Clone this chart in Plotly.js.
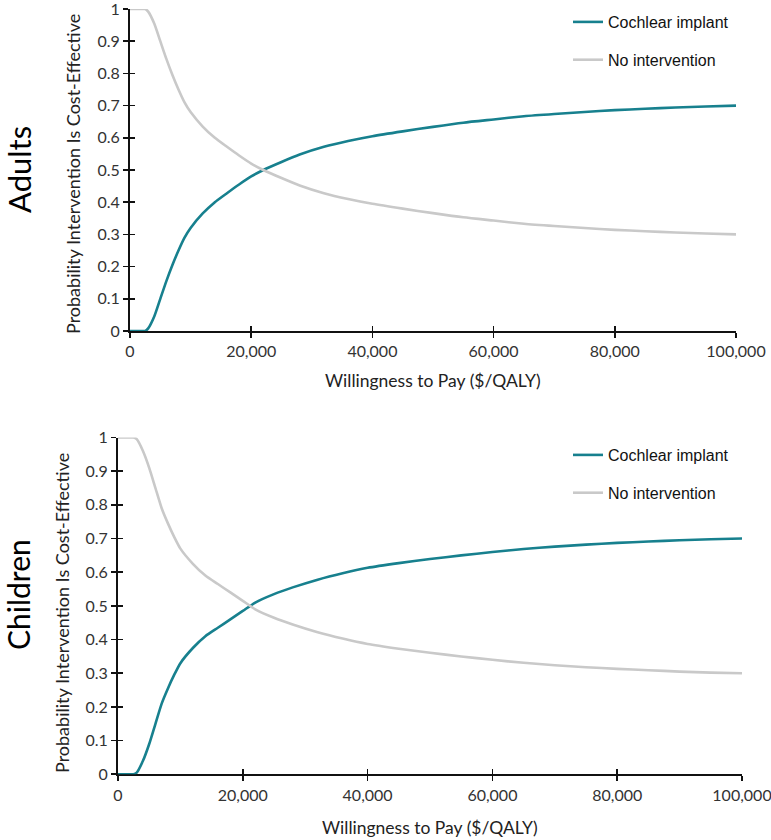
<!DOCTYPE html>
<html>
<head>
<meta charset="utf-8">
<script src="https://cdn.plot.ly/plotly-3.0.1.min.js"></script>
<style>html,body{margin:0;padding:0;background:#fff;} #chart{width:771px;height:840px;}</style>
</head>
<body>
<div id="chart"></div>
<script>
// Willingness to pay ($/QALY)
const wtp = [0, 2000, 2500, 3000, 4000, 5000, 6000, 7000, 8000, 9000, 10000, 12000, 14000, 16000, 18000, 20000, 22000, 25000, 28000, 32000, 36000, 40000, 45000, 50000, 55000, 60000, 65000, 70000, 75000, 80000, 85000, 90000, 95000, 100000];

// Adults
const adultsImplant = [0, 0, 0, 0.008, 0.045, 0.10, 0.155, 0.205, 0.25, 0.29, 0.32, 0.365, 0.40, 0.428, 0.455, 0.48, 0.50, 0.525, 0.548, 0.572, 0.59, 0.605, 0.62, 0.634, 0.647, 0.657, 0.667, 0.674, 0.680, 0.686, 0.690, 0.694, 0.697, 0.70];
const adultsNone    = [1, 1, 1, 0.992, 0.955, 0.90, 0.845, 0.795, 0.75, 0.71, 0.68, 0.635, 0.60, 0.572, 0.545, 0.52, 0.50, 0.475, 0.452, 0.428, 0.41, 0.395, 0.38, 0.366, 0.353, 0.343, 0.333, 0.326, 0.320, 0.314, 0.310, 0.306, 0.303, 0.30];

// Children
const childrenImplant = [0, 0, 0, 0.005, 0.04, 0.09, 0.15, 0.21, 0.255, 0.295, 0.33, 0.375, 0.41, 0.435, 0.46, 0.485, 0.51, 0.535, 0.555, 0.578, 0.597, 0.613, 0.627, 0.639, 0.650, 0.660, 0.669, 0.676, 0.682, 0.687, 0.691, 0.695, 0.698, 0.70];
const childrenNone    = [1, 1, 1, 0.995, 0.96, 0.91, 0.85, 0.79, 0.745, 0.705, 0.67, 0.625, 0.59, 0.565, 0.54, 0.515, 0.49, 0.465, 0.445, 0.422, 0.403, 0.387, 0.373, 0.361, 0.350, 0.340, 0.331, 0.324, 0.318, 0.313, 0.309, 0.305, 0.302, 0.30];

const seriesNames = ['Cochlear implant', 'No intervention'];
const xTicks = [0, 20000, 40000, 60000, 80000, 100000];
const xTickText = ['0', '20,000', '40,000', '60,000', '80,000', '100,000'];
const panelLabels = ['Adults', 'Children'];
const xTitle = 'Willingness to Pay ($/QALY)';
const yTitle = 'Probability Intervention Is Cost-Effective';

const teal = '#17808e';
const grey = '#c9c9c9';
const axisCol = '#111';
const textCol = '#333';
const tickFont = {family: 'Lato, Calibri, sans-serif', size: 16, color: textCol};

function line(x, y, name, color, xa, ya, leg, grp) {
  return {x: x, y: y, name: name, type: 'scatter', mode: 'lines',
    line: {color: color, width: 2.6, shape: 'spline', smoothing: 0.6},
    xaxis: xa, yaxis: ya, legend: leg, legendgroup: grp, hoverinfo: 'skip'};
}
// empty helper traces so the overlay tick axes (inner half of crossing ticks) get drawn
function helper(xa, ya) {
  return {x: [null], y: [null], type: 'scatter', mode: 'lines', xaxis: xa, yaxis: ya,
    showlegend: false, hoverinfo: 'skip'};
}

const data = [
  line(wtp, adultsImplant, seriesNames[0], teal, 'x', 'y', 'legend', 'a1'),
  line(wtp, adultsNone, seriesNames[1], grey, 'x', 'y', 'legend', 'a2'),
  line(wtp, childrenImplant, seriesNames[0], teal, 'x2', 'y2', 'legend2', 'c1'),
  line(wtp, childrenNone, seriesNames[1], grey, 'x2', 'y2', 'legend2', 'c2'),
  helper('x3', 'y3'),
  helper('x4', 'y4')
];

function xAx(domain, anchor) {
  return {domain: domain, anchor: anchor, range: [0, 100000], tickvals: xTicks, ticktext: xTickText,
    showgrid: false, zeroline: false, showline: true, linecolor: axisCol, linewidth: 2,
    ticks: 'outside', ticklen: 5, tickwidth: 1.6, tickcolor: axisCol, tickfont: tickFont,
    ticklabeloverflow: 'allow', layer: 'below traces', fixedrange: true};
}
function yAx(domain, anchor) {
  return {domain: domain, anchor: anchor, range: [0, 1], dtick: 0.1, tick0: 0,
    showgrid: false, zeroline: false, showline: true, linecolor: axisCol, linewidth: 2,
    ticks: 'outside', ticklen: 5, tickwidth: 1.6, tickcolor: axisCol, tickfont: tickFont,
    ticklabeloverflow: 'allow', layer: 'below traces', fixedrange: true};
}
function xOver(over, anchor) {
  return {overlaying: over, anchor: anchor, range: [0, 100000], tickvals: xTicks, showticklabels: false,
    showgrid: false, zeroline: false, showline: false, ticks: 'inside', ticklen: 5, tickwidth: 1.6,
    tickcolor: axisCol, layer: 'below traces', fixedrange: true};
}
function yOver(over, anchor) {
  return {overlaying: over, anchor: anchor, range: [0, 1], dtick: 0.1, tick0: 0, showticklabels: false,
    showgrid: false, zeroline: false, showline: false, ticks: 'inside', ticklen: 5, tickwidth: 1.6,
    tickcolor: axisCol, layer: 'below traces', fixedrange: true};
}

const topX = [130/771, 736/771], topY = [509/840, 831/840];
const botX = [118/771, 742/771], botY = [65.7/840, 402.5/840];

const legFont = {family: 'Liberation Sans, Arial, sans-serif', size: 16, color: '#111'};

const layout = {
  width: 771, height: 840,
  margin: {l: 0, r: 0, t: 0, b: 0},
  paper_bgcolor: '#fff', plot_bgcolor: 'rgba(0,0,0,0)',
  showlegend: true,
  xaxis: xAx(topX, 'y'), yaxis: yAx(topY, 'x'),
  xaxis2: xAx(botX, 'y2'), yaxis2: yAx(botY, 'x2'),
  xaxis3: xOver('x', 'y3'), yaxis3: yOver('y', 'x3'),
  xaxis4: xOver('x2', 'y4'), yaxis4: yOver('y2', 'x4'),
  legend: {x: 568/771, y: 1 - 5/840, xanchor: 'left', yanchor: 'top', bgcolor: 'rgba(0,0,0,0)',
    font: legFont, tracegroupgap: 14, itemwidth: 30},
  legend2: {x: 568/771, y: 1 - 438/840, xanchor: 'left', yanchor: 'top', bgcolor: 'rgba(0,0,0,0)',
    font: legFont, tracegroupgap: 14, itemwidth: 30},
  annotations: [
    {text: panelLabels[0], xref: 'paper', yref: 'paper', x: 19/771, y: 1 - 170/840, textangle: -90,
      showarrow: false, xanchor: 'center', yanchor: 'middle', font: {family: 'Lato, Calibri, sans-serif', size: 31, color: '#000'}},
    {text: panelLabels[1], xref: 'paper', yref: 'paper', x: 18/771, y: 1 - 595/840, textangle: -90,
      showarrow: false, xanchor: 'center', yanchor: 'middle', font: {family: 'Lato, Calibri, sans-serif', size: 30, color: '#000'}},
    {text: yTitle, xref: 'paper', yref: 'paper', x: 73/771, y: 1 - 174/840, textangle: -90,
      showarrow: false, xanchor: 'center', yanchor: 'middle', font: {family: 'Lato, Calibri, sans-serif', size: 18, color: '#222'}},
    {text: yTitle, xref: 'paper', yref: 'paper', x: 62/771, y: 1 - 613/840, textangle: -90,
      showarrow: false, xanchor: 'center', yanchor: 'middle', font: {family: 'Lato, Calibri, sans-serif', size: 18, color: '#222'}},
    {text: xTitle, xref: 'paper', yref: 'paper', x: 433/771, y: 1 - 381/840,
      showarrow: false, xanchor: 'center', yanchor: 'middle', font: {family: 'Lato, Calibri, sans-serif', size: 17.5, color: '#222'}},
    {text: xTitle, xref: 'paper', yref: 'paper', x: 430/771, y: 1 - 827/840,
      showarrow: false, xanchor: 'center', yanchor: 'middle', font: {family: 'Lato, Calibri, sans-serif', size: 17.5, color: '#222'}}
  ]
};

Plotly.newPlot('chart', data, layout, {staticPlot: true, displayModeBar: false});
</script>
</body>
</html>
